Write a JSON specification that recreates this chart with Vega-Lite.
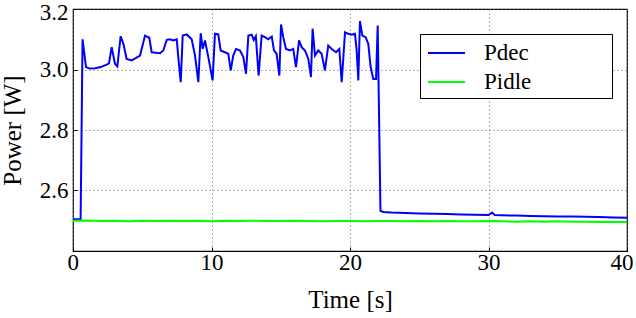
{
  "$schema": "https://vega.github.io/schema/vega-lite/v6.json",
  "width": 554,
  "height": 242,
  "autosize": {"type": "none"},
  "padding": {"left": 73, "top": 9, "right": 9, "bottom": 67},
  "background": "white",
  "config": {
    "font": "Liberation Serif",
    "view": {"stroke": "black", "strokeWidth": 1.2},
    "axis": {
      "domain": false,
      "ticks": true,
      "tickSize": -4,
      "tickColor": "black",
      "tickWidth": 1,
      "grid": true,
      "gridColor": "#666",
      "gridDash": [1, 3],
      "gridWidth": 1,
      "labelFont": "Liberation Serif",
      "labelFontSize": 23,
      "labelColor": "black",
      "titleFont": "Liberation Serif",
      "titleFontSize": 25,
      "titleFontWeight": "normal",
      "titleColor": "black"
    },
    "legend": {
      "labelFont": "Liberation Serif",
      "labelFontSize": 23,
      "labelColor": "black"
    }
  },
  "data": {
    "values": [
      {"t": 0, "p": 2.505, "s": "Pdec"},
      {"t": 0.55, "p": 2.505, "s": "Pdec"},
      {"t": 0.69, "p": 3.1, "s": "Pdec"},
      {"t": 0.94, "p": 3.008, "s": "Pdec"},
      {"t": 1.2, "p": 3.003, "s": "Pdec"},
      {"t": 1.6, "p": 3.004, "s": "Pdec"},
      {"t": 2.0, "p": 3.008, "s": "Pdec"},
      {"t": 2.43, "p": 3.016, "s": "Pdec"},
      {"t": 2.6, "p": 3.02, "s": "Pdec"},
      {"t": 2.79, "p": 3.074, "s": "Pdec"},
      {"t": 3.03, "p": 3.019, "s": "Pdec"},
      {"t": 3.2, "p": 3.01, "s": "Pdec"},
      {"t": 3.44, "p": 3.11, "s": "Pdec"},
      {"t": 3.64, "p": 3.085, "s": "Pdec"},
      {"t": 3.87, "p": 3.035, "s": "Pdec"},
      {"t": 4.24, "p": 3.03, "s": "Pdec"},
      {"t": 4.84, "p": 3.046, "s": "Pdec"},
      {"t": 5.2, "p": 3.112, "s": "Pdec"},
      {"t": 5.51, "p": 3.105, "s": "Pdec"},
      {"t": 5.68, "p": 3.057, "s": "Pdec"},
      {"t": 6.28, "p": 3.054, "s": "Pdec"},
      {"t": 6.52, "p": 3.063, "s": "Pdec"},
      {"t": 6.77, "p": 3.098, "s": "Pdec"},
      {"t": 7.0, "p": 3.1, "s": "Pdec"},
      {"t": 7.24, "p": 3.096, "s": "Pdec"},
      {"t": 7.49, "p": 3.1, "s": "Pdec"},
      {"t": 7.6, "p": 3.041, "s": "Pdec"},
      {"t": 7.78, "p": 2.958, "s": "Pdec"},
      {"t": 7.92, "p": 3.112, "s": "Pdec"},
      {"t": 8.21, "p": 3.116, "s": "Pdec"},
      {"t": 8.57, "p": 3.1, "s": "Pdec"},
      {"t": 8.81, "p": 3.046, "s": "Pdec"},
      {"t": 9.05, "p": 2.958, "s": "Pdec"},
      {"t": 9.22, "p": 3.12, "s": "Pdec"},
      {"t": 9.36, "p": 3.068, "s": "Pdec"},
      {"t": 9.53, "p": 3.096, "s": "Pdec"},
      {"t": 9.77, "p": 3.041, "s": "Pdec"},
      {"t": 10.08, "p": 2.964, "s": "Pdec"},
      {"t": 10.25, "p": 3.118, "s": "Pdec"},
      {"t": 10.49, "p": 3.116, "s": "Pdec"},
      {"t": 10.66, "p": 3.063, "s": "Pdec"},
      {"t": 10.97, "p": 3.057, "s": "Pdec"},
      {"t": 11.21, "p": 3.052, "s": "Pdec"},
      {"t": 11.39, "p": 2.997, "s": "Pdec"},
      {"t": 11.57, "p": 3.046, "s": "Pdec"},
      {"t": 11.77, "p": 3.068, "s": "Pdec"},
      {"t": 12.06, "p": 3.063, "s": "Pdec"},
      {"t": 12.3, "p": 3.041, "s": "Pdec"},
      {"t": 12.49, "p": 2.986, "s": "Pdec"},
      {"t": 12.66, "p": 3.112, "s": "Pdec"},
      {"t": 12.9, "p": 3.115, "s": "Pdec"},
      {"t": 13.05, "p": 3.098, "s": "Pdec"},
      {"t": 13.2, "p": 3.11, "s": "Pdec"},
      {"t": 13.4, "p": 2.98, "s": "Pdec"},
      {"t": 13.62, "p": 3.112, "s": "Pdec"},
      {"t": 13.86, "p": 3.107, "s": "Pdec"},
      {"t": 14.1, "p": 3.1, "s": "Pdec"},
      {"t": 14.35, "p": 3.109, "s": "Pdec"},
      {"t": 14.51, "p": 3.063, "s": "Pdec"},
      {"t": 14.7, "p": 3.052, "s": "Pdec"},
      {"t": 14.9, "p": 2.98, "s": "Pdec"},
      {"t": 15.02, "p": 3.149, "s": "Pdec"},
      {"t": 15.18, "p": 3.107, "s": "Pdec"},
      {"t": 15.38, "p": 3.068, "s": "Pdec"},
      {"t": 15.67, "p": 3.063, "s": "Pdec"},
      {"t": 15.9, "p": 3.068, "s": "Pdec"},
      {"t": 16.1, "p": 3.008, "s": "Pdec"},
      {"t": 16.32, "p": 3.096, "s": "Pdec"},
      {"t": 16.51, "p": 3.074, "s": "Pdec"},
      {"t": 16.75, "p": 3.063, "s": "Pdec"},
      {"t": 16.99, "p": 3.035, "s": "Pdec"},
      {"t": 17.18, "p": 2.975, "s": "Pdec"},
      {"t": 17.3, "p": 3.135, "s": "Pdec"},
      {"t": 17.47, "p": 3.046, "s": "Pdec"},
      {"t": 17.71, "p": 3.063, "s": "Pdec"},
      {"t": 17.95, "p": 3.052, "s": "Pdec"},
      {"t": 18.19, "p": 2.997, "s": "Pdec"},
      {"t": 18.43, "p": 3.079, "s": "Pdec"},
      {"t": 18.68, "p": 3.068, "s": "Pdec"},
      {"t": 18.99, "p": 3.057, "s": "Pdec"},
      {"t": 19.23, "p": 3.068, "s": "Pdec"},
      {"t": 19.4, "p": 2.958, "s": "Pdec"},
      {"t": 19.64, "p": 3.123, "s": "Pdec"},
      {"t": 19.88, "p": 3.118, "s": "Pdec"},
      {"t": 20.12, "p": 3.115, "s": "Pdec"},
      {"t": 20.36, "p": 3.118, "s": "Pdec"},
      {"t": 20.48, "p": 3.063, "s": "Pdec"},
      {"t": 20.6, "p": 2.964, "s": "Pdec"},
      {"t": 20.72, "p": 3.16, "s": "Pdec"},
      {"t": 20.89, "p": 3.112, "s": "Pdec"},
      {"t": 21.13, "p": 3.107, "s": "Pdec"},
      {"t": 21.32, "p": 3.085, "s": "Pdec"},
      {"t": 21.49, "p": 3.008, "s": "Pdec"},
      {"t": 21.68, "p": 2.969, "s": "Pdec"},
      {"t": 21.88, "p": 2.969, "s": "Pdec"},
      {"t": 22.0, "p": 3.145, "s": "Pdec"},
      {"t": 22.2, "p": 2.533, "s": "Pdec"},
      {"t": 22.4, "p": 2.529, "s": "Pdec"},
      {"t": 23, "p": 2.527, "s": "Pdec"},
      {"t": 24, "p": 2.526, "s": "Pdec"},
      {"t": 25, "p": 2.524, "s": "Pdec"},
      {"t": 26, "p": 2.523, "s": "Pdec"},
      {"t": 27, "p": 2.522, "s": "Pdec"},
      {"t": 28, "p": 2.521, "s": "Pdec"},
      {"t": 29, "p": 2.52, "s": "Pdec"},
      {"t": 30, "p": 2.519, "s": "Pdec"},
      {"t": 30.25, "p": 2.527, "s": "Pdec"},
      {"t": 30.45, "p": 2.519, "s": "Pdec"},
      {"t": 31, "p": 2.518, "s": "Pdec"},
      {"t": 32, "p": 2.517, "s": "Pdec"},
      {"t": 33, "p": 2.516, "s": "Pdec"},
      {"t": 34, "p": 2.515, "s": "Pdec"},
      {"t": 35, "p": 2.514, "s": "Pdec"},
      {"t": 36, "p": 2.514, "s": "Pdec"},
      {"t": 37, "p": 2.513, "s": "Pdec"},
      {"t": 38, "p": 2.512, "s": "Pdec"},
      {"t": 39, "p": 2.511, "s": "Pdec"},
      {"t": 40, "p": 2.51, "s": "Pdec"},
      {"t": 0, "p": 2.5, "s": "Pidle"},
      {"t": 1, "p": 2.501, "s": "Pidle"},
      {"t": 2, "p": 2.499, "s": "Pidle"},
      {"t": 3, "p": 2.5, "s": "Pidle"},
      {"t": 4, "p": 2.498, "s": "Pidle"},
      {"t": 5, "p": 2.5, "s": "Pidle"},
      {"t": 6, "p": 2.499, "s": "Pidle"},
      {"t": 7, "p": 2.5, "s": "Pidle"},
      {"t": 8, "p": 2.499, "s": "Pidle"},
      {"t": 9, "p": 2.5, "s": "Pidle"},
      {"t": 10, "p": 2.498, "s": "Pidle"},
      {"t": 11, "p": 2.5, "s": "Pidle"},
      {"t": 12, "p": 2.499, "s": "Pidle"},
      {"t": 13, "p": 2.5, "s": "Pidle"},
      {"t": 14, "p": 2.499, "s": "Pidle"},
      {"t": 15, "p": 2.499, "s": "Pidle"},
      {"t": 16, "p": 2.5, "s": "Pidle"},
      {"t": 17, "p": 2.499, "s": "Pidle"},
      {"t": 18, "p": 2.498, "s": "Pidle"},
      {"t": 19, "p": 2.499, "s": "Pidle"},
      {"t": 20, "p": 2.499, "s": "Pidle"},
      {"t": 21, "p": 2.498, "s": "Pidle"},
      {"t": 22, "p": 2.499, "s": "Pidle"},
      {"t": 23, "p": 2.499, "s": "Pidle"},
      {"t": 24, "p": 2.498, "s": "Pidle"},
      {"t": 25, "p": 2.499, "s": "Pidle"},
      {"t": 26, "p": 2.498, "s": "Pidle"},
      {"t": 27, "p": 2.499, "s": "Pidle"},
      {"t": 28, "p": 2.498, "s": "Pidle"},
      {"t": 29, "p": 2.498, "s": "Pidle"},
      {"t": 30, "p": 2.499, "s": "Pidle"},
      {"t": 31, "p": 2.498, "s": "Pidle"},
      {"t": 32, "p": 2.497, "s": "Pidle"},
      {"t": 33, "p": 2.498, "s": "Pidle"},
      {"t": 34, "p": 2.497, "s": "Pidle"},
      {"t": 35, "p": 2.498, "s": "Pidle"},
      {"t": 36, "p": 2.497, "s": "Pidle"},
      {"t": 37, "p": 2.497, "s": "Pidle"},
      {"t": 38, "p": 2.496, "s": "Pidle"},
      {"t": 39, "p": 2.497, "s": "Pidle"},
      {"t": 40, "p": 2.496, "s": "Pidle"}
    ]
  },
  "mark": {"type": "line", "strokeWidth": 2, "clip": true},
  "encoding": {
    "x": {
      "field": "t",
      "type": "quantitative",
      "scale": {"domain": [0, 40], "nice": false},
      "axis": {"title": "Time [s]", "values": [0, 10, 20, 30, 40], "labelPadding": 4, "titlePadding": 13, "labelFlush": true, "labelFlushOffset": 6}
    },
    "y": {
      "field": "p",
      "type": "quantitative",
      "scale": {"domain": [2.4, 3.2], "nice": false, "zero": false},
      "axis": {"title": "Power [W]", "values": [2.6, 2.8, 3.0, 3.2], "format": ".1f", "labelPadding": 9, "titlePadding": 14, "labelFlush": true, "labelFlushOffset": 8}
    },
    "color": {
      "field": "s",
      "type": "nominal",
      "sort": ["Pdec", "Pidle"],
      "scale": {"domain": ["Pdec", "Pidle"], "range": ["#0000ff", "#00ff00"]},
      "legend": {
        "title": "MMM",
        "titleOrient": "right",
        "titleColor": "rgba(0,0,0,0)",
        "titleFont": "Liberation Serif",
        "titleFontSize": 22,
        "titlePadding": 14,
        "orient": "none",
        "legendX": 347,
        "legendY": 25,
        "symbolType": "M-0.786,0H1.857",
        "symbolSize": 784,
        "symbolStrokeWidth": 2,
        "strokeColor": "black",
        "fillColor": "white",
        "padding": 4,
        "rowPadding": 2,
        "labelOffset": 30,
        "labelLimit": 300,
        "labelFont": "Liberation Serif",
        "labelFontSize": 23
      }
    },
    "order": {"field": "s", "type": "nominal"}
  }
}
